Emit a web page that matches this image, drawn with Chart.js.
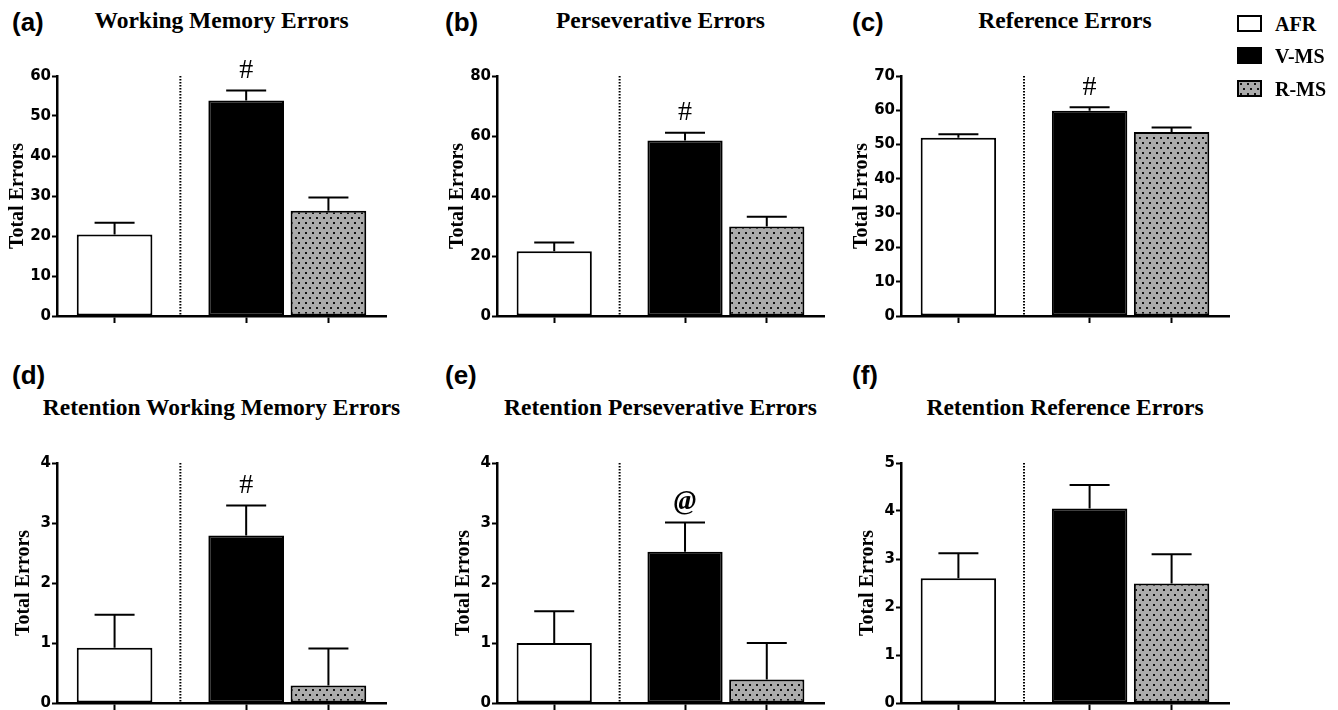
<!DOCTYPE html>
<html><head><meta charset="utf-8">
<script src="https://cdn.jsdelivr.net/npm/chart.js@4.4.1/dist/chart.umd.min.js"></script>
<style>
html,body{margin:0;padding:0;background:#fff;overflow:hidden;}
#wrap{position:relative;width:1338px;height:710px;overflow:hidden;background:#fff;}
#wrap canvas{position:absolute;}
.lab{position:absolute;font:bold 26px "Liberation Sans",Arial,sans-serif;line-height:1;transform:translateY(-50%);color:#000;white-space:nowrap;}
.ttl{position:absolute;font:bold 23.5px "Liberation Serif","Times New Roman",serif;line-height:1;transform:translate(-50%,-50%);white-space:nowrap;color:#000;}
.legbox{position:absolute;width:25px;height:17px;box-sizing:border-box;border:2px solid #000;}
.legtxt{position:absolute;font:bold 20px "Liberation Serif","Times New Roman",serif;line-height:1;transform:translateY(-50%);color:#000;white-space:nowrap;}
</style></head>
<body><div id="wrap"></div>
<script>
// ---------------- data ----------------
const groups = ['AFR', 'V-MS', 'R-MS'];
const groupX = [0, 1.6, 2.6];
const dividerX = 0.8;
const panelLetters = ['(a)', '(b)', '(c)', '(d)', '(e)', '(f)'];
const panelTitles = ['Working Memory Errors', 'Perseverative Errors', 'Reference Errors',
  'Retention Working Memory Errors', 'Retention Perseverative Errors', 'Retention Reference Errors'];
const yTitle = 'Total Errors';
const yMax = [60, 80, 70, 4, 4, 5];
const yStep = [10, 20, 10, 1, 1, 1];
const afrMean = [20.4, 21.6, 52.0, 0.92, 1.0, 2.6];
const afrSem = [2.9, 2.9, 1.0, 0.55, 0.53, 0.52];
const vmsMean = [53.9, 58.5, 59.9, 2.79, 2.52, 4.05];
const vmsSem = [2.5, 2.6, 1.0, 0.5, 0.49, 0.49];
const rmsMean = [26.3, 29.8, 53.7, 0.29, 0.39, 2.49];
const rmsSem = [3.3, 3.3, 1.3, 0.62, 0.61, 0.61];
const sigMarks = ['#', '#', '#', '#', '@', ''];

// ---------------- layout / style ----------------
const colLeft = [0, 440, 844];
const colPadRight = [14, 16, 15];
const canvasW = 400;
const rowTop = [56, 443];
const rowH = [290, 280];
const rowXH = [30, 20];
const rowTitlePad = [6, 12];
const letterX = [12, 445, 852];
const letterY = [22, 375];
const titleY = [21, 408];
const titleX = [221.5, 660.5, 1065];

const wrap = document.getElementById('wrap');

function makePattern() {
  const c = document.createElement('canvas');
  c.width = 7; c.height = 10;
  const g = c.getContext('2d');
  g.fillStyle = '#ababab'; g.fillRect(0, 0, 7, 10);
  g.fillStyle = '#111';
  g.fillRect(1, 1, 2, 2);
  g.fillRect(4, 6, 2, 2);
  return { canvas: c, pattern: g.createPattern(c, 'repeat') };
}
const pat = makePattern();
const fills = ['#ffffff', '#000000', pat.pattern];
const means = [afrMean, vmsMean, rmsMean];
const sems = [afrSem, vmsSem, rmsSem];

const decor = {
  id: 'decor',
  beforeDatasetsDraw(chart) {
    const { ctx, chartArea, scales: { x } } = chart;
    const px = x.getPixelForValue(dividerX);
    ctx.save();
    ctx.strokeStyle = '#000';
    ctx.lineWidth = 2;
    ctx.setLineDash([1.6, 1.4]);
    ctx.beginPath();
    ctx.moveTo(px, chartArea.top);
    ctx.lineTo(px, chartArea.bottom);
    ctx.stroke();
    ctx.restore();
  },
  afterDatasetsDraw(chart) {
    const { ctx, scales: { y } } = chart;
    ctx.save();
    ctx.strokeStyle = '#000';
    ctx.lineWidth = 2;
    chart.data.datasets.forEach((ds, di) => {
      const meta = chart.getDatasetMeta(di);
      meta.data.forEach((bar, i) => {
        const v = ds.data[i].y, e = ds.sem[i];
        const top = y.getPixelForValue(v + e);
        ctx.beginPath();
        ctx.moveTo(bar.x, bar.y);
        ctx.lineTo(bar.x, top);
        ctx.moveTo(bar.x - 20, top);
        ctx.lineTo(bar.x + 20, top);
        ctx.stroke();
        if (ds.mark) {
          ctx.fillStyle = '#000';
          ctx.textAlign = 'center';
          ctx.textBaseline = 'middle';
          ctx.font = ds.mark === '@' ? 'bold italic 27px "Liberation Serif", serif' : '28px "Liberation Serif", serif';
          ctx.fillText(ds.mark, bar.x, top - 20);
        }
      });
    });
    ctx.restore();
  }
};

for (let p = 0; p < 6; p++) {
  const col = p % 3, row = Math.floor(p / 3);
  const lab = document.createElement('div');
  lab.className = 'lab'; lab.textContent = panelLetters[p];
  lab.style.left = letterX[col] + 'px'; lab.style.top = letterY[row] + 'px';
  wrap.appendChild(lab);
  const ttl = document.createElement('div');
  ttl.className = 'ttl'; ttl.textContent = panelTitles[p];
  ttl.style.left = titleX[col] + 'px'; ttl.style.top = titleY[row] + 'px';
  wrap.appendChild(ttl);

  const cv = document.createElement('canvas');
  cv.width = canvasW; cv.height = rowH[row];
  cv.style.left = colLeft[col] + 'px'; cv.style.top = rowTop[row] + 'px';
  cv.style.width = canvasW + 'px'; cv.style.height = rowH[row] + 'px';
  wrap.appendChild(cv);

  const datasets = groups.map((g, gi) => ({
    label: g,
    data: [{ x: groupX[gi], y: means[gi][p] }],
    sem: [sems[gi][p]],
    mark: gi === 1 ? sigMarks[p] : '',
    backgroundColor: fills[gi],
    borderColor: '#000',
    borderWidth: 2,
    borderSkipped: false,
    grouped: false,
    categoryPercentage: 0.92,
    barPercentage: 1
  }));

  new Chart(cv, {
    type: 'bar',
    data: { datasets },
    plugins: [decor],
    options: {
      responsive: false,
      animation: false,
      layout: { padding: { left: 0, top: 20, right: colPadRight[col], bottom: 0 } },
      plugins: { legend: { display: false }, tooltip: { enabled: false } },
      scales: {
        x: {
          type: 'linear',
          min: -0.7, max: 3.3,
          offset: false,
          afterBuildTicks: (s) => { s.ticks = groupX.map(v => ({ value: v })); },
          afterFit: (s) => { s.height = rowXH[row]; },
          ticks: { display: false },
          grid: { offset: false, drawOnChartArea: false, drawTicks: true, tickLength: 7, tickWidth: 2, tickColor: '#000' },
          border: { display: true, color: '#000', width: 2.5 }
        },
        y: {
          type: 'linear',
          min: 0, max: yMax[p],
          afterFit: (s) => { s.width = 57; },
          ticks: {
            stepSize: yStep[p],
            color: '#000',
            padding: 1,
            font: { family: '"DejaVu Sans", "Liberation Sans", Arial, sans-serif', size: 15, weight: 'bold' }
          },
          grid: { drawOnChartArea: false, drawTicks: true, tickLength: 5, tickWidth: 2, tickColor: '#000' },
          border: { display: true, color: '#000', width: 2.5 },
          title: {
            display: true, text: yTitle, color: '#000',
            font: { family: '"Liberation Serif", "Times New Roman", serif', size: 20, weight: 'bold' },
            padding: { top: rowTitlePad[row], bottom: 0 }
          }
        }
      }
    }
  });
}

// legend
const legTop = [15, 47, 80];
groups.forEach((g, gi) => {
  const b = document.createElement('div');
  b.className = 'legbox';
  b.style.left = '1237px'; b.style.top = legTop[gi] + 'px';
  if (gi === 0) b.style.background = '#fff';
  else if (gi === 1) b.style.background = '#000';
  else { b.style.backgroundColor = '#ababab'; b.style.backgroundImage = 'url(' + pat.canvas.toDataURL() + ')'; }
  wrap.appendChild(b);
  const t = document.createElement('div');
  t.className = 'legtxt'; t.textContent = g;
  t.style.left = '1275px'; t.style.top = (legTop[gi] + 8.5) + 'px';
  wrap.appendChild(t);
});
</script>
</body></html>
